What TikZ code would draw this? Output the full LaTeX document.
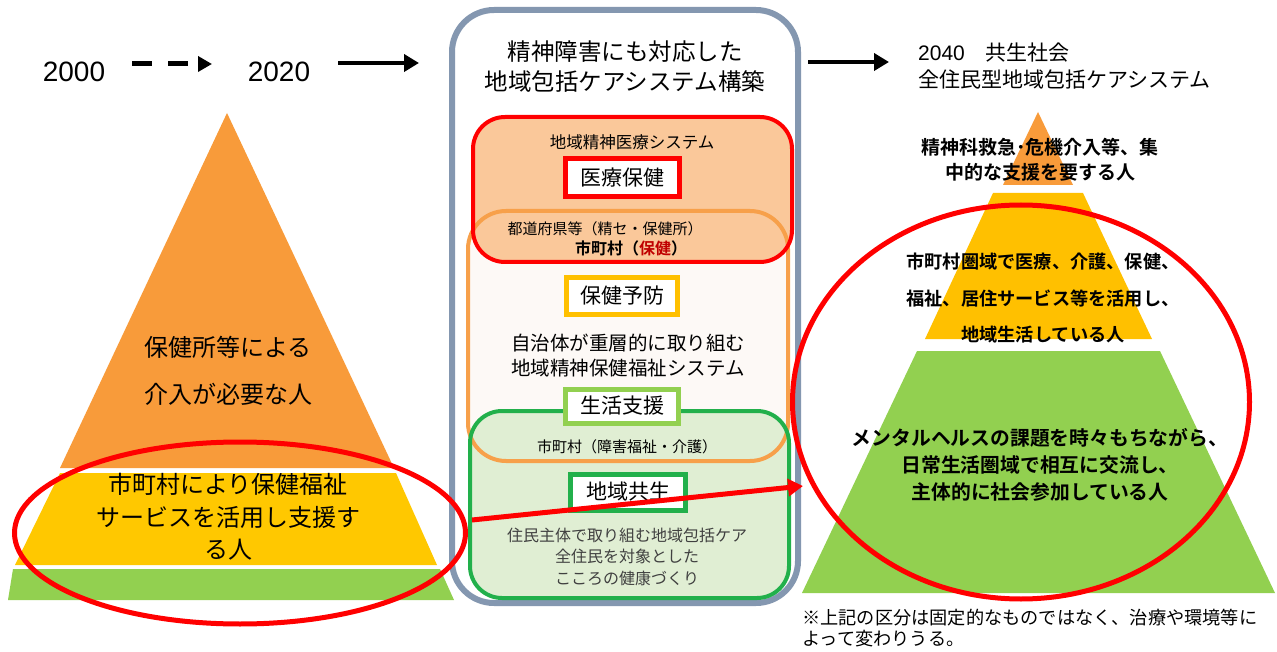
\documentclass[tikz,border=0pt]{standalone}
\usepackage{fontspec}
\setmainfont{Noto Sans CJK JP}[BoldFont={Noto Sans CJK JP Bold}]
\newfontfamily\arialf{Liberation Sans}
\usetikzlibrary{arrows.meta,shapes.geometric}
\newcommand\fsz[2]{\fontsize{#1}{#2}\selectfont}
\definecolor{cOrange}{HTML}{F89B3A}
\definecolor{cYellow}{HTML}{FFC800}
\definecolor{cYellowB}{HTML}{FFC000}
\definecolor{cLGreen}{HTML}{92D050}
\definecolor{cGreen}{HTML}{22B04B}
\definecolor{cFrame}{HTML}{8497B0}
\definecolor{cPeach}{HTML}{FAC89A}
\definecolor{cOrLine}{HTML}{F7A04A}
\definecolor{cOrFill}{HTML}{FDF9F6}
\definecolor{cGrFill}{HTML}{E0EED3}
\definecolor{cDarkRed}{HTML}{C00000}
\definecolor{cGray}{HTML}{404040}
\definecolor{cRed}{HTML}{FF0000}
\tikzset{
  lbl/.style={inner sep=0pt, align=center},
  tagbox/.style={draw=#1, line width=5pt, fill=white, inner sep=0pt, font=\fsz{21}{24}},
  blackarrow/.style={line width=4pt, -{Triangle[length=15pt,width=17pt]}},
}
\begin{document}
\begin{tikzpicture}[x=1pt,y=-1pt]
\useasboundingbox (0,0) rectangle (1277,652);
\fill[white] (0,0) rectangle (1277,652);

% ---- timeline
\node[lbl, font=\arialf\fsz{28}{30}] (y2000) at (74,72) {2000};
\node[lbl, font=\arialf\fsz{28}{30}] (y2020) at (279,72) {2020};
\coordinate (da) at (132,64);
\coordinate (db) at (212,64);
\draw[line width=5pt, dash pattern=on 20pt off 16pt, -{Triangle[length=14pt,width=15pt]}] (da) -- (db);
\coordinate (sa) at (338,63);
\coordinate (sb) at (419,63);
\draw[blackarrow] (sa) -- (sb);
\coordinate (ta) at (808,62);
\coordinate (tb) at (889,62);
\draw[blackarrow] (ta) -- (tb);

% ---- left pyramid
\fill[cOrange] (227,113) -- (394,468) -- (60,468) -- cycle;
\fill[cYellow] (60,473) -- (396,473) -- (437,565) -- (15,565) -- cycle;
\fill[cLGreen] (13,569) -- (440,569) -- (454,600) -- (8,600) -- cycle;
\node[lbl, font=\fsz{24}{47}] (lo) at (228,371) {保健所等による\\介入が必要な人};
\node[lbl, font=\fsz{24}{32.5}] (ly) at (228,517) {市町村により保健福祉\\サービスを活用し支援す\\る人};

% ---- central frame
\draw[cFrame, line width=6pt, rounded corners=42pt] (452,10) rectangle (798,603);
\node[lbl, font=\fsz{23.5}{30}] (title) at (625,67) {精神障害にも対応した\\地域包括ケアシステム構築};

\fill[cOrFill, rounded corners=38pt] (468,211) rectangle (788,461);
\fill[cPeach, rounded corners=32pt] (473,117) rectangle (792,262);
\fill[cGrFill, rounded corners=32pt] (470,411) rectangle (789,598);
\draw[cOrLine, line width=4pt, rounded corners=38pt] (468,211) rectangle (788,461);
\draw[cRed, line width=4pt, rounded corners=32pt] (473,117) rectangle (792,262);
\draw[cGreen, line width=4pt, rounded corners=32pt] (470,411) rectangle (789,598);

\node[lbl, font=\fsz{16.5}{20}] (med) at (632,142) {地域精神医療システム};
\node[tagbox=cRed, minimum width=114pt, minimum height=38pt] (b1) at (622,178) {医療保健};
\node[lbl, font=\fsz{15}{18}] (pref) at (605,229) {都道府県等（精セ・保健所）};
\node[lbl, font=\bfseries\fsz{16}{18}] (muni1) at (631,248) {市町村（\textcolor{cDarkRed}{保健}）};
\node[tagbox=cYellowB, minimum width=111pt, minimum height=37pt] (b2) at (622,296) {保健予防};
\node[lbl, font=\fsz{19.5}{25}] (jichi) at (628,355.5) {自治体が重層的に取り組む\\地域精神保健福祉システム};
\node[tagbox=cLGreen, minimum width=113pt, minimum height=34pt] (b3) at (622,406) {生活支援};
\node[lbl, font=\fsz{15}{18}] (muni2) at (627,447) {市町村（障害福祉・介護）};
\node[tagbox=cGreen, minimum width=115pt, minimum height=36pt] (b4) at (628,492) {地域共生};
\node[lbl, font=\fsz{16}{21.5}, text=cGray] (jumin) at (627,556.5) {住民主体で取り組む地域包括ケア\\全住民を対象とした\\こころの健康づくり};

% ---- right side
\node[lbl, anchor=west, align=left, font=\fsz{21}{27}] (rtitle) at (918,66) {{\arialf 2040}　共生社会\\全住民型地域包括ケアシステム};
\fill[cOrange] (1038,112) -- (1073,185) -- (1003,185) -- cycle;
\fill[cYellowB] (993,193) -- (1083,193) -- (1152,339) -- (925,339) -- cycle;
\fill[cLGreen] (917,351) -- (1160,351) -- (1275,593) -- (802,593) -- cycle;

% ---- ellipses and link
\node[draw=cRed, line width=5pt, ellipse, inner sep=0pt, minimum width=451pt, minimum height=182pt] (eL) at (240,533) {};
\node[draw=cRed, line width=5pt, ellipse, inner sep=0pt, minimum width=457pt, minimum height=394pt] (eR) at (1021,402) {};
\coordinate (ra) at (472,520);
\coordinate (rb) at (803,486);
\draw[cRed, line width=5pt, -{Triangle[length=15pt,width=17pt]}] (ra) -- (rb);

\node[lbl, font=\bfseries\fsz{19}{25}] (r1) at (1040,160) {精神科救急･危機介入等、集\\中的な支援を要する人};
\node[lbl, font=\bfseries\fsz{18.2}{36.5}] (r2) at (1043,298.5) {市町村圏域で医療、介護、保健、\\福祉、居住サービス等を活用し、\\地域生活している人};
\node[lbl, font=\bfseries\fsz{19.8}{27}] (r3) at (1040,465) {メンタルヘルスの課題を時々もちながら、\\日常生活圏域で相互に交流し、\\主体的に社会参加している人};
\node[lbl, anchor=west, align=left, font=\fsz{18.2}{21}] (note) at (802,628) {※上記の区分は固定的なものではなく、治療や環境等に\\よって変わりうる。};
\end{tikzpicture}
\end{document}
